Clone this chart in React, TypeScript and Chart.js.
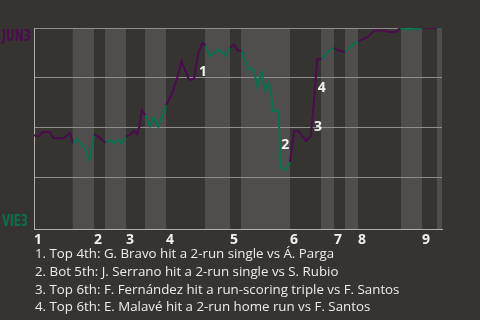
import React, { useEffect, useRef } from "react";
import { Chart, registerables } from "chart.js";

Chart.register(...registerables);

// Win-probability data (x = play sequence, y = % chance JUN3 wins)
const eventX = [
  0, 1.1, 2.2, 3.9, 4.9, 7.4, 9.0,
  9.8, 10.7, 12.2, 13.0, 13.9, 15.0,
  16.5, 17.9,
  19.0, 20.0, 21.0, 21.9, 23.0,
  24.0, 25.0, 25.8, 26.4, 27.0, 27.8,
  29.0, 30.0, 31.1, 33.0,
  34.4, 35.7, 36.9, 38.8, 40.0, 41.1, 42.2, 42.9,
  44.0, 46.1, 48.0, 49.0,
  50.0, 50.8, 51.9,
  53.6, 55.0, 55.8, 56.9, 57.8, 58.6, 59.2, 59.7, 61.1, 61.7, 63.0, 64.0,
  65.0, 66.1, 68.0, 69.2, 69.9, 70.8, 71.9,
  73.5, 75.0,
  76.1, 77.8,
  79.0, 80.3, 81.1,
  82.3, 83.6, 85.0, 87.8, 88.6, 90.5, 91.5,
  92.8, 94.8, 95.3, 96.1, 97.0,
  98.5, 100.8,
  102,
];
const winPct = [
  46.2, 45.5, 47.8, 47.8, 44.7, 44.7, 47.2,
  41.9, 44.2, 40.9, 38.2, 33.8, 46.7,
  44.9, 42.4,
  43.8, 42.2, 43.9, 42.2, 45.4,
  46.4, 48.3, 46.7, 51.2, 58.9, 56.2,
  50.8, 55.0, 50.5, 61.2,
  66.7, 74.2, 83.3, 73.8, 74.5, 87.8, 92.5, 91.2,
  85.8, 89.2, 86.2, 90.0,
  91.7, 88.9, 88.4,
  79.2, 79.2, 70.8, 77.8, 68.3, 72.5, 69.2, 58.3, 58.3, 30.0, 28.8, 32.8,
  48.3, 48.3, 43.3, 45.8, 61.2, 84.5, 84.5,
  88.2, 90.0,
  88.8, 88.0,
  90.5, 92.5, 93.4,
  94.5, 95.8, 98.7, 98.7, 98.0, 98.0, 100,
  99.4, 99.4, 100, 99.4, 100,
  100, 100,
  100,
];

const inningStarts = [0, 15, 23, 33, 49, 64, 75, 81, 97];
const inningLabels = ["1", "2", "3", "4", "5", "6", "7", "8", "9"];
const bottomHalfStart = [9.675, 17.75, 27.75, 42.75, 51.75, 71.75, 77.75, 91.75, 100.75];
const bottomHalfEnd = [15, 23, 33, 49, 64, 75, 81, 97, 102];
const gridValues = [25, 50, 75, 100];

const keyPlayIndex = [35, 54, 61, 62];
const keyPlayLabels = ["1", "2", "3", "4"];
const keyPlayTexts = [
  "1. Top 4th: G. Bravo hit a 2-run single vs Á. Parga",
  "2. Bot 5th: J. Serrano hit a 2-run single vs S. Rubio",
  "3. Top 6th: F. Fernández hit a run-scoring triple vs F. Santos",
  "4. Top 6th: E. Malavé hit a 2-run home run vs F. Santos",
];

const awayName = "JUN3";
const homeName = "VIE3";

const BG = "#363430";
const BAND = "#504e4c";
const PURPLE = "#4b0b4e";
const GREEN = "#07704e";
const GRID = "#8f8e8c";

const isBottomHalf = (x: number) =>
  bottomHalfStart.some((s, i) => x >= s && x < bottomHalfEnd[i]);

export default function App() {
  const ref = useRef<HTMLCanvasElement | null>(null);

  useEffect(() => {
    if (!ref.current) return;
    const bandsPlugin = {
      id: "bands",
      beforeDraw(chart: any) {
        const { ctx, chartArea, scales } = chart;
        ctx.save();
        ctx.fillStyle = BAND;
        bottomHalfStart.forEach((s, i) => {
          const x0 = scales.x.getPixelForValue(s);
          const x1 = scales.x.getPixelForValue(bottomHalfEnd[i]);
          ctx.fillRect(x0, chartArea.top, x1 - x0, chartArea.bottom - chartArea.top);
        });
        ctx.restore();
      },
    };
    const labelsPlugin = {
      id: "labels",
      afterDatasetsDraw(chart: any) {
        const { ctx, chartArea } = chart;
        const pts = chart.getDatasetMeta(0).data;
        ctx.save();
        ctx.fillStyle = "#f2f2f2";
        ctx.font = 'bold 14px "Open Sans"';
        ctx.textAlign = "left";
        ctx.textBaseline = "middle";
        keyPlayIndex.forEach((idx, i) => {
          const p = pts[idx];
          const q = pts[idx - 1];
          ctx.fillText(keyPlayLabels[i], p.x + 0.5, (p.y + q.y) / 2 + 6);
        });
        ctx.font = 'bold 15px "DejaVu Sans Condensed"';
        ctx.textBaseline = "alphabetic";
        ctx.fillStyle = PURPLE;
        ctx.fillText(awayName, 2, chartArea.top + 13, 29);
        ctx.fillStyle = GREEN;
        ctx.fillText(homeName, 2, chartArea.bottom - 3, 26);
        ctx.restore();
      },
    };
    const chart = new Chart(ref.current, {
      type: "line",
      data: {
        datasets: [
          {
            data: eventX.map((x, i) => ({ x, y: winPct[i] })),
            borderWidth: 2,
            pointRadius: 0,
            tension: 0,
            borderColor: PURPLE,
            segment: {
              borderColor: (c: any) =>
                isBottomHalf((c.p0.parsed.x + c.p1.parsed.x) / 2) ? GREEN : PURPLE,
            },
          },
        ],
      },
      options: {
        responsive: false,
        animation: false,
        layout: { padding: { left: 34, right: 38, top: 28, bottom: 0 } },
        plugins: { legend: { display: false }, tooltip: { enabled: false } },
        scales: {
          x: {
            type: "linear",
            min: 0,
            max: 102,
            grid: { display: false, drawTicks: false },
            border: { display: true, color: "#b0afad", width: 1 },
            afterBuildTicks: (axis: any) => {
              axis.ticks = inningStarts.map((v) => ({ value: v }));
            },
            ticks: {
              autoSkip: false,
              maxRotation: 0,
              align: "start",
              padding: 2,
              color: "#f0f0f0",
              font: { family: "Open Sans", size: 14, weight: "bold" },
              callback: (v: any) => inningLabels[inningStarts.indexOf(Number(v))] ?? "",
            },
          },
          y: {
            min: -1,
            max: 100,
            afterBuildTicks: (axis: any) => {
              axis.ticks = gridValues.map((v) => ({ value: v }));
            },
            ticks: { display: false },
            grid: { color: GRID, lineWidth: 1, drawTicks: false },
            border: { display: true, color: "#b0afad", width: 1 },
          },
        },
      },
      plugins: [bandsPlugin, labelsPlugin],
    });
    return () => chart.destroy();
  }, []);

  return (
    <div
      style={{
        position: "fixed",
        left: 0,
        top: 0,
        width: 480,
        height: 320,
        background: BG,
        overflow: "hidden",
      }}
    >
      <canvas ref={ref} width={480} height={250} style={{ position: "absolute", left: 0, top: 0 }} />
      <div
        style={{
          position: "absolute",
          left: 35,
          top: 245,
          fontFamily: '"Open Sans", sans-serif',
          fontSize: 13.3,
          lineHeight: "17.8px",
          color: "#ececec",
          whiteSpace: "nowrap",
        }}
      >
        {keyPlayTexts.map((t) => (
          <div key={t}>{t}</div>
        ))}
      </div>
    </div>
  );
}
